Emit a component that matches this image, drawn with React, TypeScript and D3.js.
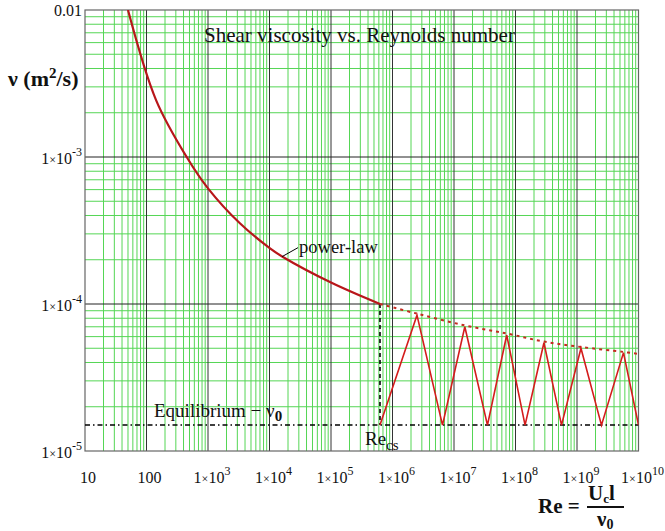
import React from "react";
import * as d3 from "d3";

// power-law curve (Re, nu)
const curveRe = [50, 143, 450, 1000, 3300, 10200, 16800, 1e5, 6.26e5];
const curveNu = [1e-2, 2.44e-3, 1e-3, 6.12e-4, 3.54e-4, 2.39e-4, 2.08e-4, 1.4e-4, 1e-4];

// dashed continuation past Re_cs
const dashRe = [6.26e5, 2.5e6, 1.5e7, 7.2e7, 2.9e8, 1.16e9, 5.7e9, 1e10];
const dashNu = [1e-4, 8.6e-5, 7.15e-5, 6.3e-5, 5.55e-5, 5.1e-5, 4.72e-5, 4.57e-5];

// equilibrium viscosity and critical Re
const nu0 = 1.5e-5;
const reCs = 6.26e5;

// sawtooth after Re_cs
const sawRe = [6.26e5, 2.5e6, 6.5e6, 1.5e7, 3.5e7, 7.2e7, 1.43e8, 2.9e8, 5.6e8, 1.16e9, 2.5e9, 5.7e9, 1e10];
const sawNu = [nu0, 8.4e-5, nu0, 7.0e-5, nu0, 6.15e-5, nu0, 5.45e-5, nu0, 5.0e-5, nu0, 4.67e-5, nu0];

const xDecades = [10, 100, 1e3, 1e4, 1e5, 1e6, 1e7, 1e8, 1e9, 1e10];
const xExponents = [1, 2, 3, 4, 5, 6, 7, 8, 9, 10];
const yDecades = [1e-2, 1e-3, 1e-4, 1e-5];
const yExponents = [-2, -3, -4, -5];

const W = 665;
const H = 531;
const serif = "'Liberation Serif', 'Times New Roman', serif";
const green = "#55d655";

export default function App() {
  const x = d3.scaleLog().domain([10, 1e10]).range([85, 638.5]);
  const y = d3.scaleLog().domain([1e-5, 1e-2]).range([451, 10]);

  const xt = x.ticks();
  const yt = y.ticks();
  const isDecade = (v: number) => Math.abs(Math.log10(v) - Math.round(Math.log10(v))) < 1e-9;

  const line = d3
    .line<[number, number]>()
    .x((d) => x(d[0]))
    .y((d) => y(d[1]));
  const smooth = d3
    .line<[number, number]>()
    .x((d) => x(d[0]))
    .y((d) => y(d[1]))
    .curve(d3.curveCatmullRom.alpha(0.5));

  const curvePts = curveRe.map((r, i) => [r, curveNu[i]] as [number, number]);
  const dashPts = dashRe.map((r, i) => [r, dashNu[i]] as [number, number]);
  const sawPts = sawRe.map((r, i) => [r, sawNu[i]] as [number, number]);

  const [x0, x1] = x.range();
  const [y0, y1] = y.range();

  // power-law annotation anchor on the curve
  const annX = x(1.6e4);
  const annY = y(2.1e-4);

  return (
    <svg width={W} height={H} style={{ position: "absolute", left: 0, top: 0, background: "#fff" }} fontFamily={serif}>
      <defs>
        <clipPath id="plot">
          <rect x={x0} y={y1} width={x1 - x0} height={y0 - y1} />
        </clipPath>
      </defs>
      {/* minor grid */}
      {xt.filter((v) => !isDecade(v)).map((v, i) => (
        <line key={"xm" + i} x1={x(v)} x2={x(v)} y1={y1} y2={y0} stroke={green} strokeWidth={1} />
      ))}
      {yt.filter((v) => !isDecade(v)).map((v, i) => (
        <line key={"ym" + i} x1={x0} x2={x1} y1={y(v)} y2={y(v)} stroke={green} strokeWidth={1} />
      ))}
      {/* decade grid */}
      {xDecades.slice(1, -1).map((v, i) => (
        <line key={"xd" + i} x1={x(v)} x2={x(v)} y1={y1} y2={y0} stroke="#333" strokeWidth={1} />
      ))}
      {yDecades.slice(1, -1).map((v, i) => (
        <line key={"yd" + i} x1={x0} x2={x1} y1={y(v)} y2={y(v)} stroke="#222" strokeWidth={1} />
      ))}
      <rect x={x0} y={y1} width={x1 - x0} height={y0 - y1} fill="none" stroke="#666" strokeWidth={1.2} />

      <g clipPath="url(#plot)">
        {/* equilibrium line */}
        <line x1={x0} x2={x1} y1={y(nu0)} y2={y(nu0)} stroke="#000" strokeWidth={1.5} strokeDasharray="5,3,1.5,3" />
        {/* Re_cs vertical */}
        <line x1={x(reCs)} x2={x(reCs)} y1={y(1e-4)} y2={y(nu0)} stroke="#000" strokeWidth={1.6} strokeDasharray="4,3" />
        <path d={smooth(dashPts) || ""} fill="none" stroke="#c42a20" strokeWidth={2} strokeDasharray="3,4" />
        <path d={line(sawPts) || ""} fill="none" stroke="#d41c1c" strokeWidth={1.6} />
        <path d={smooth(curvePts) || ""} fill="none" stroke="#b8161a" strokeWidth={2.2} />
      </g>

      {/* title */}
      <text x={204} y={42} fontSize={21} fill="#111">Shear viscosity vs. Reynolds number</text>

      {/* power-law label */}
      <line x1={annX} y1={annY} x2={annX + 16} y2={annY - 9} stroke="#000" strokeWidth={1} />
      <text x={annX + 17} y={annY - 4} fontSize={18.5} fill="#111">power-law</text>

      {/* equilibrium label */}
      <text x={154} y={y(nu0) - 8} fontSize={19} fill="#111">
        Equilibrium − ν
        <tspan fontWeight="bold" fontSize={15} dy={4}>0</tspan>
      </text>

      {/* Re_cs label */}
      <text x={x(reCs) - 15} y={y(nu0) + 20} fontSize={19} fill="#111">
        Re
        <tspan fontSize={15} dy={5}>cs</tspan>
      </text>

      {/* y tick labels */}
      {yDecades.map((v, i) =>
        i === 0 ? (
          <text key={"yl" + i} x={82} y={y(v) + 6} fontSize={16} textAnchor="end" fill="#111">0.01</text>
        ) : (
          <text key={"yl" + i} x={82} y={y(v) + 7} fontSize={16} textAnchor="end" fill="#111">
            1<tspan fontSize={12}>×</tspan>10
            <tspan fontSize={12} dy={-8}>{yExponents[i]}</tspan>
          </text>
        )
      )}

      {/* x tick labels */}
      {xDecades.map((v, i) =>
        xExponents[i] <= 2 ? (
          <text key={"xl" + i} x={x(v) + 3} y={483} fontSize={16} textAnchor="middle" fill="#111">
            {xExponents[i] === 1 ? "10" : "100"}
          </text>
        ) : (
          <text key={"xl" + i} x={x(v) + 4} y={483} fontSize={16} textAnchor="middle" fill="#111">
            1<tspan fontSize={12}>×</tspan>10
            <tspan fontSize={12} dy={-8}>{xExponents[i]}</tspan>
          </text>
        )
      )}

      {/* y axis title */}
      <text x={8} y={86} fontSize={22} fontWeight="bold" fill="#111">
        ν (m<tspan fontSize={15} dy={-8}>2</tspan>
        <tspan dy={8}>/s)</tspan>
      </text>

      {/* x axis title */}
      <text x={538} y={513} fontSize={21} fontWeight="bold" fill="#111">Re =</text>
      <text x={588} y={500} fontSize={21} fontWeight="bold" fill="#111">
        U<tspan fontSize={13} dy={3}>c</tspan>
        <tspan dy={-3}>l</tspan>
      </text>
      <line x1={587} x2={624} y1={507} y2={507} stroke="#111" strokeWidth={2} />
      <text x={597} y={526} fontSize={21} fontWeight="bold" fill="#111">
        ν<tspan fontSize={14} dy={3}>0</tspan>
      </text>
    </svg>
  );
}
